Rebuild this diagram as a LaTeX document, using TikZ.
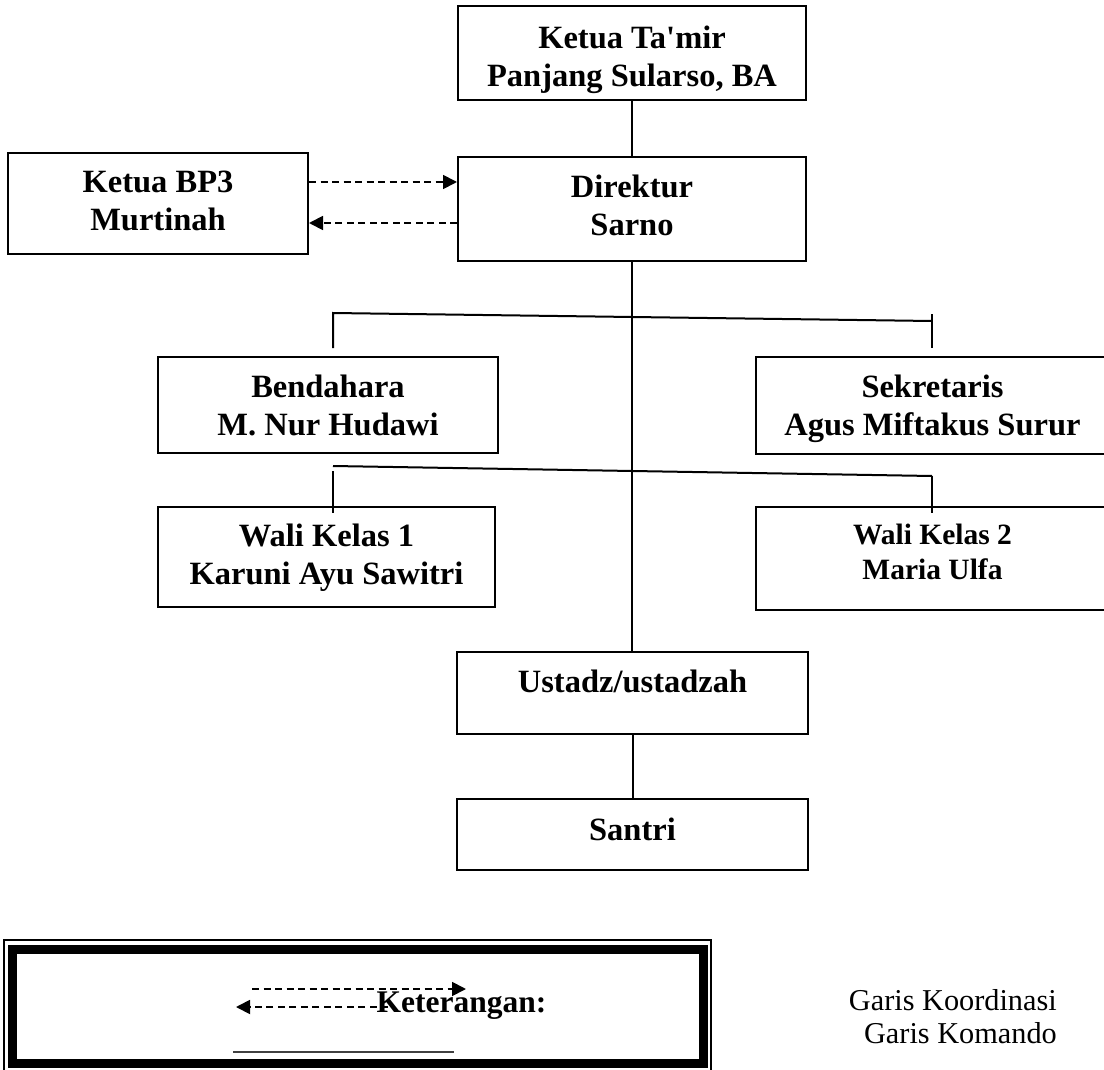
\documentclass[tikz,border=0pt]{standalone}
\usepackage{fontspec}
\setmainfont{Liberation Serif}
\usetikzlibrary{arrows.meta}
\newcommand{\btext}[3]{\raisebox{0pt}[#1][#2]{\begin{tabular}[b]{@{}c@{}}#3\end{tabular}}}
\begin{document}
\begin{tikzpicture}[x=1pt,y=-1pt,
  orgbox/.style={draw, line width=2pt, fill=white, inner sep=0pt, font=\fontsize{32.5}{38}\selectfont\bfseries},
  link/.style={line width=2pt},
  coordarrow/.style={line width=1.8pt, dash pattern=on 7pt off 4.5pt, -{Triangle[length=14pt,width=14pt]}},
  legtext/.style={inner sep=0pt, font=\fontsize{30.3}{35}\selectfont},
]
\useasboundingbox (0,0) rectangle (1104,1070);
\clip (0,0) rectangle (1104,1070);

% boxes
\node[orgbox, minimum width=348pt, minimum height=94pt] (ketua) at (632,53) {\btext{68pt}{0pt}{Ketua Ta\textquotesingle mir\\Panjang Sularso, BA}};
\node[orgbox, minimum width=348pt, minimum height=104pt] (direktur) at (632,209) {\btext{54pt}{0pt}{Direktur\\Sarno}};
\node[orgbox, minimum width=300pt, minimum height=101pt] (bp3) at (158,203.5) {\btext{53pt}{0pt}{Ketua BP3\\Murtinah}};
\node[orgbox, minimum width=340pt, minimum height=96pt] (bend) at (328,405) {\btext{60pt}{0pt}{Bendahara\\M. Nur Hudawi}};
\node[orgbox, minimum width=353pt, minimum height=97pt] (sekr) at (932.5,405.5) {\btext{60pt}{0pt}{Sekretaris\\Agus Miftakus Surur}};
\node[orgbox, minimum width=337pt, minimum height=100pt] (wali1) at (326.5,557) {\btext{54pt}{0pt}{Wali Kelas 1\\Karuni Ayu Sawitri}};
\node[orgbox, minimum width=353pt, minimum height=103pt, font=\fontsize{29.5}{35}\selectfont\bfseries] (wali2) at (932.5,558.5) {\btext{41pt}{0pt}{Wali Kelas 2\\Maria Ulfa}};
\node[orgbox, minimum width=351pt, minimum height=82pt] (ust) at (632.5,693) {\btext{0pt}{2pt}{Ustadz/ustadzah}};
\node[orgbox, minimum width=351pt, minimum height=71pt] (santri) at (632.5,834.5) {\btext{11pt}{0pt}{Santri}};

% command lines
\draw[link] (ketua.south) -- (direktur.north);
\draw[link] (direktur.south) -- (direktur.south |- ust.north);
\draw[link] (ust.south) -- (ust.south |- santri.north);

% coordination arrows
\coordinate (co1s) at ([yshift=21.5pt]bp3.east);
\coordinate (co1e) at (co1s -| direktur.west);
\draw[coordarrow] (co1s) -- (co1e);
\coordinate (co2e) at ([yshift=-19.5pt]bp3.east);
\coordinate (co2s) at (co2e -| direktur.west);
\draw[coordarrow] (co2s) -- (co2e);

% branch lines level 1
\coordinate (h1l) at (333,313);
\coordinate (h1r) at (932,321);
\coordinate (h1ld) at (333,348);
\coordinate (h1ru) at (932,314);
\coordinate (h1rd) at (932,348);
\draw[link] (h1ld) -- (h1l) -- (h1r);
\draw[link] (h1ru) -- (h1rd);

% branch lines level 2
\coordinate (h2l) at (333,466);
\coordinate (h2r) at (932,476);
\coordinate (h2lu) at (333,471);
\coordinate (h2ld) at (333,513);
\coordinate (h2rd) at (932,513);
\draw[link] (h2l) -- (h2r);
\draw[link] (h2lu) -- (h2ld);
\draw[link] (h2r) -- (h2rd);

% legend
\node[draw, line width=1.2pt, minimum width=707pt, minimum height=132pt, inner sep=0pt] (legout) at (357.5,1006) {};
\node[draw, line width=9pt, minimum width=691pt, minimum height=114pt, inner sep=0pt] (legin) at (357.5,1006) {};
\coordinate (la1) at (252,989);
\coordinate (la2) at (466,989);
\draw[coordarrow] (la1) -- (la2);
\coordinate (lb1) at (388,1007);
\coordinate (lb2) at (236,1007);
\draw[coordarrow] (lb1) -- (lb2);
\node[anchor=base, inner sep=0pt, font=\fontsize{31.5}{37}\selectfont\bfseries] (ket) at (461.5,1012) {Keterangan:};
\coordinate (ls1) at (233,1052);
\coordinate (ls2) at (454,1052);
\draw[line width=1.4pt, black!75] (ls1) -- (ls2);
\node[legtext, anchor=base east] (gk) at (1057,1010) {Garis Koordinasi};
\node[legtext, anchor=base east] (gm) at (1057,1043) {Garis Komando};
\end{tikzpicture}
\end{document}
